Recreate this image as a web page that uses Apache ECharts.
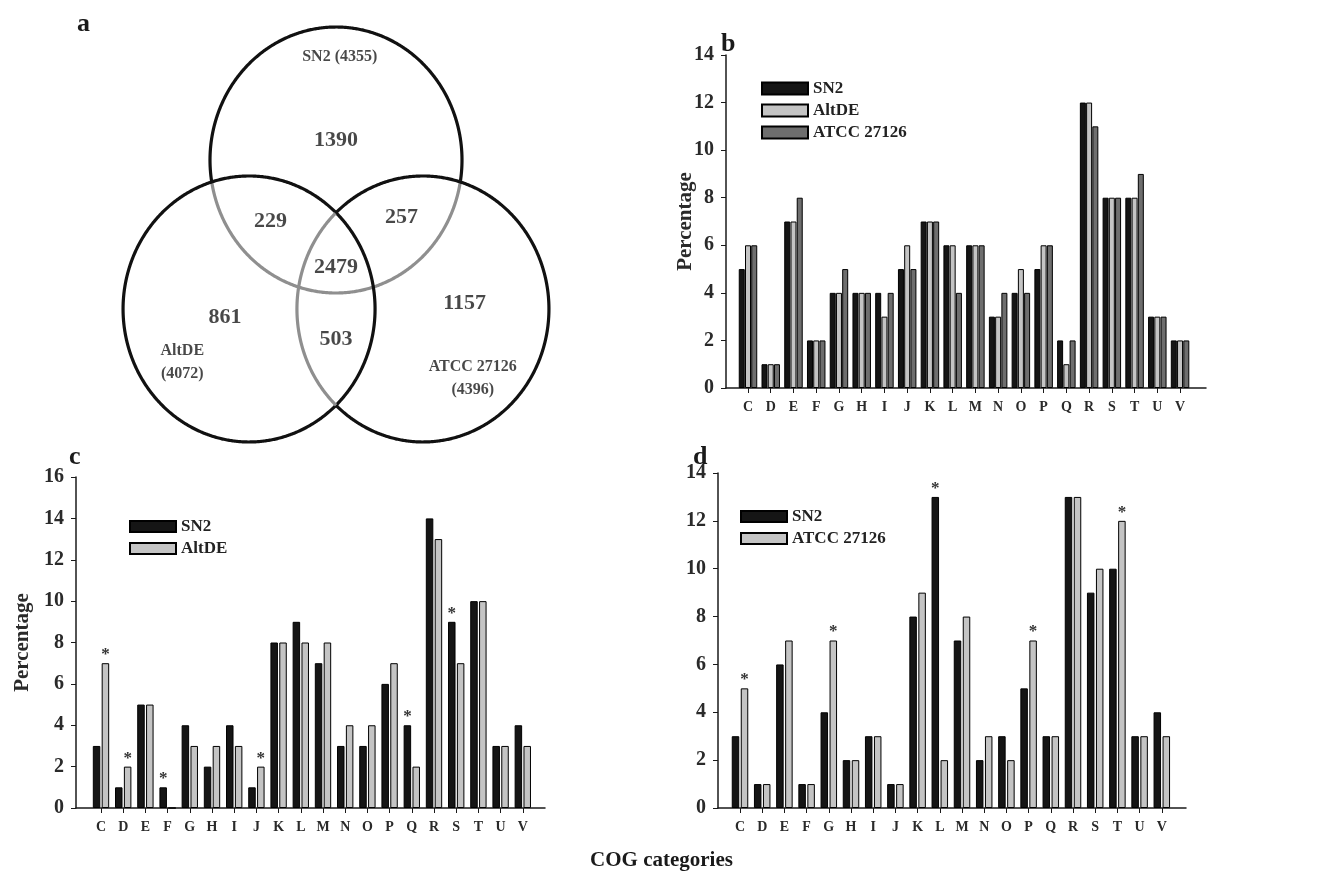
<!DOCTYPE html>
<html><head><meta charset="utf-8">
<script src="https://cdn.jsdelivr.net/npm/echarts@6/dist/echarts.min.js"></script>
<style>html,body{margin:0;padding:0;background:#fff}#chart{width:1323px;height:872px}</style>
</head><body><div id="chart"></div>
<script>
// ---------- DATA ----------
const categories = ['C','D','E','F','G','H','I','J','K','L','M','N','O','P','Q','R','S','T','U','V'];
// panel b (percentage)
const bSN2   = [5,1,7,2,4,4,4,5,7,6,6,3,4,5,2,12,8,8,3,2];
const bAltDE = [6,1,7,2,4,4,3,6,7,6,6,3,5,6,1,12,8,8,3,2];
const bATCC  = [6,1,8,2,5,4,4,5,7,4,6,4,4,6,2,11,8,9,3,2];
// panel c
const cSN2   = [3,1,5,1,4,2,4,1,8,9,7,3,3,6,4,14,9,10,3,4];
const cAltDE = [7,2,5,0,3,3,3,2,8,8,8,4,4,7,2,13,7,10,3,3];
const cStarSN2   = ['F','Q','S'];
const cStarAltDE = ['C','D','J'];
// panel d
const dSN2  = [3,1,6,1,4,2,3,1,8,13,7,2,3,5,3,13,9,10,3,4];
const dATCC = [5,1,7,1,7,2,3,1,9,2,8,3,2,7,3,13,10,12,3,3];
const dStarSN2  = ['L'];
const dStarATCC = ['C','G','P','T'];
// venn
const vennSetNames  = ['SN2','AltDE','ATCC 27126'];
const vennSetTotals = [4355, 4072, 4396];
// regions: SN2 only, SN2∩AltDE, SN2∩ATCC, all, AltDE only, AltDE∩ATCC, ATCC only
const vennCounts = [1390, 229, 257, 2479, 861, 503, 1157];

// ---------- LAYOUT (geometry / style, not data) ----------
const FONT = "'Liberation Serif','Times New Roman',serif";
const INK = '#1a1a1a';
const vennCircles = [ {cx:0, cy:0.56, r:1}, {cx:-0.69, cy:-0.56, r:1}, {cx:0.69, cy:-0.56, r:1} ];
const vennGrayInside = [[1,2],[],[1]];
const vennCountPos = [[0,0.71],[-0.52,0.10],[0.52,0.13],[0,-0.245],[-0.88,-0.62],[0,-0.79],[1.02,-0.515]];
const vennSetPos = [[0.03,1.335],[-1.22,-0.965],[1.085,-1.085]];

function xRange(axisLeft, firstCenter, spacing, axisRight){
  return {left: axisLeft, width: axisRight-axisLeft,
          min: -(firstCenter-axisLeft)/spacing, max: (axisRight-firstCenter)/spacing};
}
const bX = xRange(726, 748, 22.74, 1206);
const cX = xRange(76, 101, 22.2, 545);
const dX = xRange(718, 740, 22.2, 1186);

const idx = categories.map((_, i) => i);

function xAxisFor(g, xr){
  return {type:'value', gridIndex:g, min:xr.min, max:xr.max, splitLine:{show:false},
    axisLine:{show:true, onZero:false, lineStyle:{color:INK, width:1.5}},
    axisTick:{show:true, customValues: idx, length:5, inside:false, lineStyle:{color:INK, width:1}},
    axisLabel:{customValues: idx, formatter: v => categories[Math.round(v)] || '',
      fontFamily:FONT, fontWeight:'bold', fontSize:14, color:'#2a2a2a', margin:12}};
}
function yAxisFor(g, max, name, gap){
  return {type:'value', gridIndex:g, min:0, max:max, interval:2, splitLine:{show:false},
    axisLine:{show:true, onZero:false, lineStyle:{color:INK, width:1.5}},
    axisTick:{show:true, length:5, lineStyle:{color:INK, width:1}},
    axisLabel:{fontFamily:FONT, fontWeight:'bold', fontSize:20, color:'#2a2a2a', margin:12},
    name: name || '', nameLocation:'middle', nameRotate:90, nameGap:gap || 30, nameMoveOverlap:false,
    nameTextStyle:{fontFamily:FONT, fontWeight:'bold', fontSize:21, color:'#2a2a2a'}};
}
function bar(name, values, stars, g, color, bw, gap){
  return {type:'bar', name:name, xAxisIndex:g, yAxisIndex:g, barWidth:bw, barGap:gap,
    itemStyle:{color:color, borderColor:'#000', borderWidth:1},
    label:{show:false, position:'top', distance:0, formatter:'*', fontFamily:FONT, fontSize:17, fontWeight:'bold', color:'#333'},
    data: values.map((v,i) => {
      const d = {value:[i, v]};
      if (stars && stars.indexOf(categories[i]) >= 0) d.label = {show:true};
      return d;
    })};
}
function mkLine(pts, gray){
  return {type:'polyline', shape:{points:pts}, style:{stroke: gray ? '#8f8f8f' : '#111', lineWidth:3.2, fill:null}};
}

const legendText = {fontFamily:FONT, fontWeight:'bold', fontSize:17, color:'#222', lineHeight:17};
const DARK = '#151515', LIGHT = '#c4c4c4', MID = '#6e6e6e';

const option = {
  animation:false,
  backgroundColor:'#fff',
  title:[
    {text:'a', left:72, top:6, textStyle:{fontFamily:FONT, fontWeight:'bold', fontSize:26, color:INK}},
    {text:'b', left:716, top:26, textStyle:{fontFamily:FONT, fontWeight:'bold', fontSize:26, color:INK}},
    {text:'c', left:64, top:439, textStyle:{fontFamily:FONT, fontWeight:'bold', fontSize:26, color:INK}},
    {text:'d', left:688, top:439, textStyle:{fontFamily:FONT, fontWeight:'bold', fontSize:26, color:INK}},
    {text:'COG categories', left:'center', top:845, textStyle:{fontFamily:FONT, fontWeight:'bold', fontSize:21, color:INK}}
  ],
  legend:[
    {orient:'vertical', left:756, top:75, itemWidth:46, itemHeight:12, itemGap:5, icon:'rect', textStyle:legendText,
     data:[{name:'SN2', itemStyle:{color:DARK}},{name:'AltDE', itemStyle:{color:LIGHT}},{name:'ATCC 27126', itemStyle:{color:MID}}]},
    {orient:'vertical', left:124, top:513, itemWidth:46, itemHeight:11, itemGap:5, icon:'rect', textStyle:legendText,
     data:[{name:'SN2', itemStyle:{color:DARK}},{name:'AltDE', itemStyle:{color:LIGHT}}]},
    {orient:'vertical', left:735, top:503, itemWidth:46, itemHeight:11, itemGap:5, icon:'rect', textStyle:legendText,
     data:[{name:'SN2', itemStyle:{color:DARK}},{name:'ATCC 27126', itemStyle:{color:LIGHT}}]}
  ],
  grid:[
    {left:84, top:1.75, width:504, height:465.5},
    {left:bX.left, top:55, width:bX.width, height:333},
    {left:cX.left, top:477, width:cX.width, height:331},
    {left:dX.left, top:473, width:dX.width, height:335}
  ],
  xAxis:[
    {type:'value', gridIndex:0, min:-2, max:2, show:false},
    xAxisFor(1, bX), xAxisFor(2, cX), xAxisFor(3, dX)
  ],
  yAxis:[
    {type:'value', gridIndex:0, min:-1.75, max:1.75, show:false},
    yAxisFor(1, 14, 'Percentage', 30), yAxisFor(2, 16, 'Percentage', 43), yAxisFor(3, 14, '')
  ],
  series:[
    {type:'custom', xAxisIndex:0, yAxisIndex:0, silent:true,
     data: vennCircles.map((c,i) => [c.cx, c.cy, c.r, i]),
     renderItem: function(params, api){
       const cx = api.value(0), cy = api.value(1), r = api.value(2), i = api.value(3);
       const N = 720, children = [];
       let run = [], runGray = null;
       for (let k = 0; k <= N; k++){
         const t = 2*Math.PI*k/N;
         const x = cx + r*Math.cos(t), y = cy + r*Math.sin(t);
         const gray = vennGrayInside[i].some(j => {
           const o = vennCircles[j];
           return (x-o.cx)*(x-o.cx) + (y-o.cy)*(y-o.cy) < o.r*o.r;
         });
         const p = api.coord([x, y]);
         if (runGray === null) runGray = gray;
         if (gray !== runGray){ run.push(p); children.push(mkLine(run, runGray)); run = [p]; runGray = gray; }
         else run.push(p);
       }
       children.push(mkLine(run, runGray));
       return {type:'group', children:children};
     }},
    {type:'scatter', xAxisIndex:0, yAxisIndex:0, symbolSize:0, silent:true,
     label:{show:true, position:'inside', formatter:'{b}', fontFamily:FONT, fontWeight:'bold', fontSize:22, color:INK},
     data: vennCounts.map((v,i) => ({name:String(v), value:vennCountPos[i]}))},
    {type:'scatter', xAxisIndex:0, yAxisIndex:0, symbolSize:0, silent:true,
     label:{show:true, position:'inside', formatter:'{b}', fontFamily:FONT, fontWeight:'bold', fontSize:16, color:INK, lineHeight:23},
     data: vennSetNames.map((n,i) => ({name: i === 0 ? n + ' (' + vennSetTotals[i] + ')' : n + '\n(' + vennSetTotals[i] + ')', value:vennSetPos[i]}))},
    bar('SN2', bSN2, null, 1, DARK, 6, '4%'),
    bar('AltDE', bAltDE, null, 1, LIGHT, 6, '4%'),
    bar('ATCC 27126', bATCC, null, 1, MID, 6, '4%'),
    bar('SN2', cSN2, cStarSN2, 2, DARK, 7.5, '18%'),
    bar('AltDE', cAltDE, cStarAltDE, 2, LIGHT, 7.5, '18%'),
    bar('SN2', dSN2, dStarSN2, 3, DARK, 7.5, '20%'),
    bar('ATCC 27126', dATCC, dStarATCC, 3, LIGHT, 7.5, '20%')
  ]
};
const chart = echarts.init(document.getElementById('chart'), null, {renderer:'canvas'});
chart.setOption(option);
</script>
</body></html>
